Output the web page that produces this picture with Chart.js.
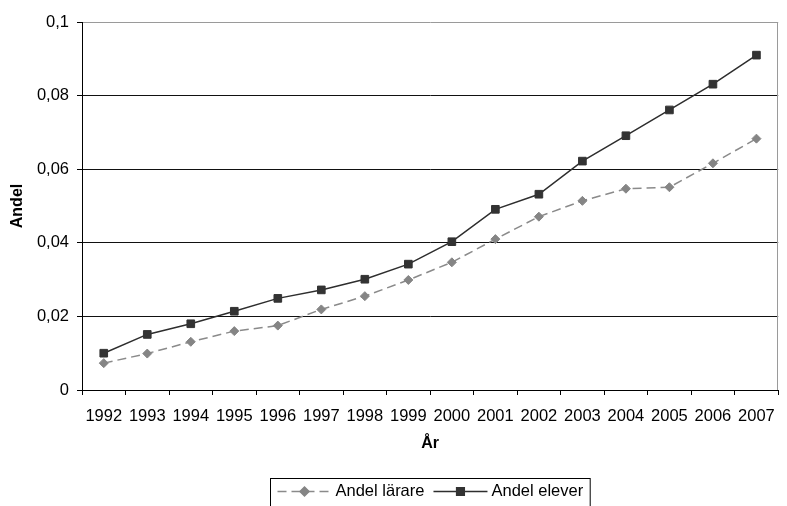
<!DOCTYPE html>
<html>
<head>
<meta charset="utf-8">
<title>Andel lärare och elever 1992–2007</title>
<script src="https://cdn.jsdelivr.net/npm/chart.js@4/dist/chart.umd.min.js"></script>
<style>
  html, body { margin: 0; padding: 0; background: #ffffff; }
  #wrap { width: 787px; height: 506px; }
</style>
</head>
<body>
<div id="wrap"><canvas id="chart" width="787" height="506"></canvas></div>
<script>
// Years on the x axis
const years = ['1992', '1993', '1994', '1995', '1996', '1997', '1998', '1999',
               '2000', '2001', '2002', '2003', '2004', '2005', '2006', '2007'];

// Share of teachers
const andelLarare = [0.0073, 0.0099, 0.0131, 0.0160, 0.0175, 0.0219, 0.0255, 0.0299,
                     0.0347, 0.0410, 0.0471, 0.0514, 0.0547, 0.0551, 0.0616, 0.0683];

// Share of pupils
const andelElever = [0.0100, 0.0151, 0.0180, 0.0214, 0.0249, 0.0272, 0.0301, 0.0342,
                     0.0403, 0.0491, 0.0532, 0.0622, 0.0691, 0.0761, 0.0831, 0.0910];

// Y axis tick labels (Swedish decimal comma)
const yTickLabels = ['0', '0,02', '0,04', '0,06', '0,08', '0,1'];

const FONT = '"Liberation Sans", Arial, Helvetica, sans-serif';

// Boxed legend below the axis title, with a line sample and marker per series.
// The box runs past the bottom edge of the canvas.
const boxLegend = {
  id: 'boxLegend',
  afterDraw(chart) {
    const ctx = chart.ctx;
    const area = chart.chartArea;
    const sets = chart.data.datasets;
    const sampleW = 54, textGap = 4, itemGap = 9, pad = 7;
    ctx.save();
    ctx.font = '16.5px ' + FONT;
    const widths = sets.map(ds => sampleW + textGap + ctx.measureText(ds.label).width);
    const total = pad * 2 + widths.reduce((a, b) => a + b, 0) + itemGap * (sets.length - 1);
    const left = Math.round((area.left + area.right) / 2 - total / 2) + 0.5;
    const top = area.bottom + 88.5;
    const h = 34;
    const midY = top + 13;

    ctx.strokeStyle = '#000';
    ctx.lineWidth = 1;
    ctx.setLineDash([]);
    ctx.strokeRect(left, top, total, h);

    let x = left + pad;
    sets.forEach((ds, i) => {
      ctx.strokeStyle = ds.borderColor;
      ctx.lineWidth = ds.borderWidth;
      ctx.setLineDash(ds.borderDash || []);
      ctx.beginPath();
      ctx.moveTo(x, midY);
      ctx.lineTo(x + sampleW, midY);
      ctx.stroke();
      ctx.setLineDash([]);
      ctx.fillStyle = ds.pointBackgroundColor;
      ctx.strokeStyle = ds.pointBorderColor;
      Chart.helpers.drawPoint(ctx, {
        pointStyle: ds.pointStyle,
        radius: ds.pointRadius,
        rotation: 0,
        borderWidth: 1
      }, x + sampleW / 2, midY);

      ctx.fillStyle = '#000';
      ctx.textBaseline = 'middle';
      ctx.textAlign = 'left';
      ctx.fillText(ds.label, x + sampleW + textGap, midY);
      x += widths[i] + itemGap;
    });
    ctx.restore();
  }
};

// Thin grey frame on the right edge of the plot area
const rightFrame = {
  id: 'rightFrame',
  afterDraw(chart) {
    const { ctx, chartArea: a } = chart;
    ctx.save();
    ctx.strokeStyle = '#9a9a9a';
    ctx.lineWidth = 1;
    ctx.beginPath();
    ctx.moveTo(Math.round(a.right) - 0.5, a.top);
    ctx.lineTo(Math.round(a.right) - 0.5, a.bottom);
    ctx.stroke();
    ctx.restore();
  }
};

new Chart(document.getElementById('chart'), {
  type: 'line',
  data: {
    labels: years,
    datasets: [
      {
        label: 'Andel lärare',
        data: andelLarare,
        borderColor: '#8a8a8a',
        backgroundColor: '#8a8a8a',
        borderWidth: 1.5,
        borderDash: [9, 5],
        pointStyle: 'rectRot',
        pointRadius: 4.5,
        pointHoverRadius: 4.5,
        pointBackgroundColor: '#858585',
        pointBorderColor: '#858585',
        pointBorderWidth: 1,
        tension: 0,
        fill: false,
        order: 2
      },
      {
        label: 'Andel elever',
        data: andelElever,
        borderColor: '#2e2e2e',
        backgroundColor: '#2e2e2e',
        borderWidth: 1.5,
        pointStyle: 'rect',
        pointRadius: 5.4,
        pointHoverRadius: 5.4,
        pointBackgroundColor: '#333333',
        pointBorderColor: '#333333',
        pointBorderWidth: 1,
        tension: 0,
        fill: false,
        order: 1
      }
    ]
  },
  options: {
    responsive: false,
    animation: false,
    devicePixelRatio: 1,
    layout: { padding: { top: 22, right: 3, left: 0, bottom: 0 } },
    plugins: {
      legend: { display: false },
      tooltip: { enabled: false },
      title: { display: false }
    },
    scales: {
      x: {
        type: 'category',
        offset: true,
        afterFit(scale) { scale.height = 116; },
        grid: {
          display: true,
          offset: true,
          drawOnChartArea: false,
          drawTicks: true,
          tickLength: 5,
          color: '#000',
          tickColor: '#000'
        },
        border: { display: true, color: '#000', width: 1 },
        ticks: {
          color: '#000',
          font: { family: FONT, size: 16.5 },
          padding: 12,
          maxRotation: 0,
          autoSkip: false
        },
        title: {
          display: true,
          text: 'År',
          color: '#000',
          font: { family: FONT, size: 16, weight: 'bold' },
          padding: { top: 4, bottom: 53 }
        }
      },
      y: {
        min: 0,
        max: 0.1,
        afterFit(scale) { scale.width = 82; },
        afterBuildTicks(scale) {
          scale.ticks = yTickLabels.map((_, i) => ({ value: i * 0.02 }));
        },
        grid: {
          color: ctx => (ctx.tick && ctx.tick.value > 0.099 ? '#9a9a9a' : '#111'),
          tickColor: '#000',
          lineWidth: 1,
          drawTicks: true,
          tickLength: 5
        },
        border: { display: true, color: '#000', width: 1 },
        ticks: {
          color: '#000',
          font: { family: FONT, size: 16.5 },
          padding: 8,
          callback: (value, index) => yTickLabels[index]
        },
        title: {
          display: true,
          text: 'Andel',
          color: '#000',
          font: { family: FONT, size: 16, weight: 'bold' },
          padding: { top: 8, bottom: 0 }
        }
      }
    }
  },
  plugins: [boxLegend, rightFrame]
});
</script>
</body>
</html>
